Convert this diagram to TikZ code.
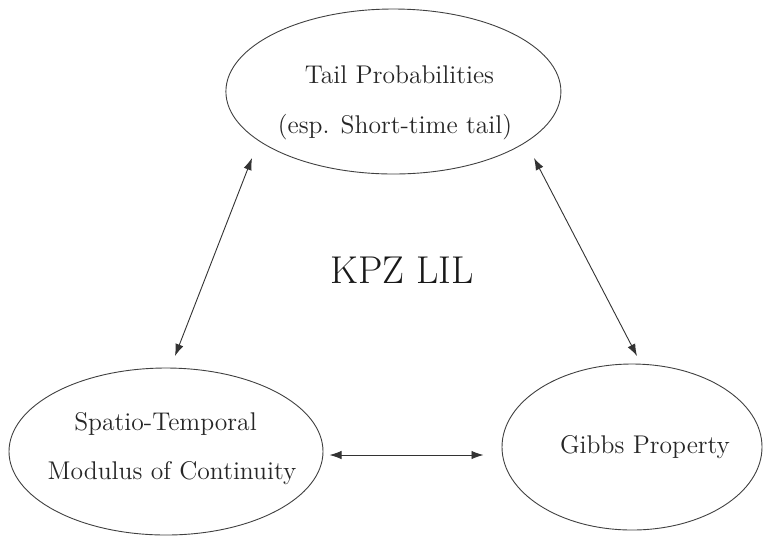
\documentclass[tikz,border=0pt]{standalone}
\usetikzlibrary{shapes.geometric,arrows.meta}
\begin{document}
\begin{tikzpicture}[x=0.5pt,y=-0.5pt,
  oval/.style={draw=black!75,line width=0.45pt,ellipse,inner sep=0pt},
  lbl/.style={anchor=base,inner sep=0pt,text=black!85,font=\fontsize{12.8}{15}\selectfont},
  conn/.style={draw=black!80,line width=0.45pt,{Latex[length=6pt,width=4.2pt]}-{Latex[length=6pt,width=4.2pt]}}]
\useasboundingbox (0,0) rectangle (764,538);
\node[oval,minimum width=167.5pt,minimum height=82.5pt] (tail) at (393.4,91.5) {};
\node[oval,minimum width=157pt,minimum height=83.5pt] (spat) at (166,451.5) {};
\node[oval,minimum width=130pt,minimum height=83pt] (gibbs) at (632,447) {};
\node[lbl] (t1) at (399.5,83) {Tail Probabilities};
\node[lbl] (t2) at (395,133) {(esp. Short-time tail)};
\node[lbl] (s1) at (165.5,430.7) {Spatio-Temporal};
\node[lbl] (s2) at (172,479.3) {Modulus of Continuity};
\node[lbl] (g1) at (645,453) {Gibbs Property};
\node[anchor=base,inner sep=0pt,text=black!90,font=\fontsize{19.4}{22}\selectfont] (kpz) at (402,283) {KPZ LIL};
\coordinate (a1) at (252,158);
\coordinate (a2) at (175,356);
\coordinate (b1) at (534,158);
\coordinate (b2) at (637,356);
\coordinate (c1) at (329.5,455);
\coordinate (c2) at (483.5,455);
\draw[conn] (a1) -- (a2);
\draw[conn] (b1) -- (b2);
\draw[conn] (c1) -- (c2);
\end{tikzpicture}
\end{document}
